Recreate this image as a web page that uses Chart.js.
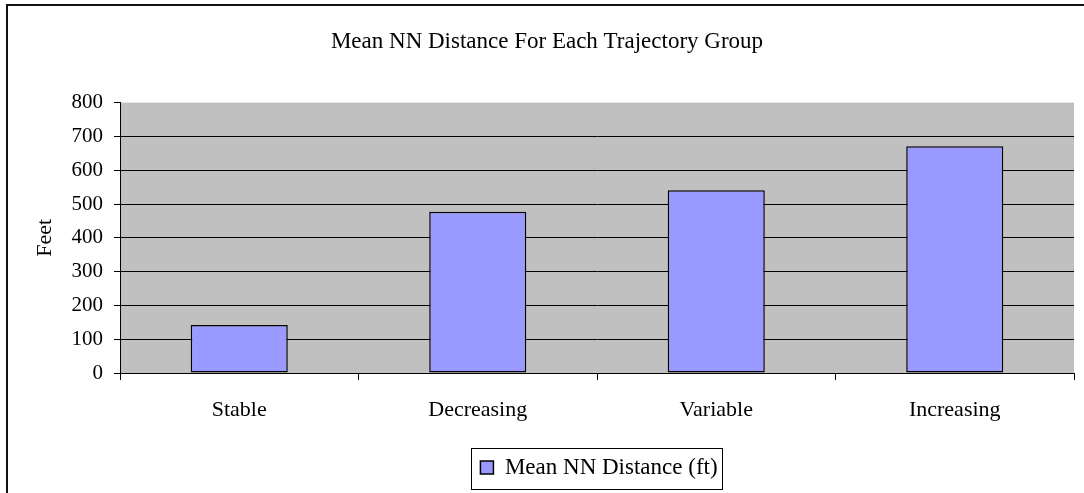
<!DOCTYPE html>
<html>
<head>
<meta charset="utf-8">
<script src="https://cdn.jsdelivr.net/npm/chart.js@4/dist/chart.umd.min.js"></script>
<style>
  body { margin: 0; background: #fff; }
  canvas { display: block; }
</style>
</head>
<body>
<canvas id="barChart" width="1084" height="493"></canvas>
<script>
// values
var categories = ['Stable', 'Decreasing', 'Variable', 'Increasing'];
var meanDistance = [142, 477, 541, 671];
var yMin = 0, yMax = 800, yStep = 100;

var serif = 'Liberation Serif, Times New Roman, serif';
var legendShift = 62; // legend sits right of centre in the original
var titleShift = 10;

// gray plot background, outer frame and legend box
var decorations = {
    id: 'decorations',
    afterLayout: function(chart) {
        chart.legend.left += legendShift;
        chart.legend.right += legendShift;
        chart.titleBlock.left += titleShift;
        chart.titleBlock.right += titleShift;
    },
    beforeDraw: function(chart) {
        var ctx = chart.ctx, a = chart.chartArea;
        ctx.save();
        ctx.fillStyle = '#C0C0C0';
        ctx.fillRect(a.left, a.top, a.right - a.left, a.bottom - a.top);
        ctx.restore();
    },
    afterDraw: function(chart) {
        var ctx = chart.ctx, lg = chart.legend;
        ctx.save();
        ctx.fillStyle = '#111';
        ctx.fillRect(6, 4, 2, chart.height);
        ctx.fillRect(6, 4, chart.width, 2);
        var hb = lg.legendHitBoxes[0];
        if (hb) {
            var cx = (lg.left + lg.right) / 2;
            var cy = hb.top + hb.height / 2;
            var w = hb.width + 14;
            ctx.strokeStyle = '#000';
            ctx.lineWidth = 1;
            ctx.strokeRect(Math.round(cx - w / 2 - 2) + 0.5, Math.round(cy - 20) + 0.5,
                           Math.round(w), 41);
        }
        ctx.restore();
    }
};

var ctx = document.getElementById('barChart');
var barChart = new Chart(ctx, {
    type: 'bar',
    data: {
        labels: categories,
        datasets: [{
            label: 'Mean NN Distance (ft)',
            data: meanDistance,
            backgroundColor: '#9999FF',
            borderColor: '#000',
            borderWidth: 1.5,
            borderSkipped: false,
            categoryPercentage: 1,
            barPercentage: 0.407
        }]
    },
    options: {
        responsive: false,
        animation: false,
        layout: { padding: { left: 0, right: 10, top: 0, bottom: 4 } },
        plugins: {
            title: {
                display: true,
                text: 'Mean NN Distance For Each Trajectory Group',
                color: '#000',
                font: { family: serif, size: 23, weight: 'normal' },
                padding: { top: 28, bottom: 47 }
            },
            legend: {
                position: 'bottom',
                labels: {
                    color: '#000',
                    font: { family: serif, size: 23 },
                    boxWidth: 13,
                    boxHeight: 13,
                    padding: 10
                }
            },
            tooltip: { enabled: false }
        },
        scales: {
            x: {
                afterFit: function(scale) { scale.height = 73; },
                grid: {
                    drawOnChartArea: false,
                    drawTicks: true,
                    tickLength: 7,
                    color: '#000'
                },
                border: { color: '#000', width: 1 },
                ticks: {
                    color: '#000',
                    padding: 17,
                    font: { family: serif, size: 22 }
                }
            },
            y: {
                min: yMin,
                max: yMax,
                afterFit: function(scale) { scale.width = 120; },
                title: {
                    display: true,
                    text: 'Feet',
                    color: '#000',
                    font: { family: serif, size: 22 },
                    padding: { top: 32, bottom: 0 }
                },
                grid: {
                    color: function(c) { return c.tick && c.tick.value === yMax ? 'rgba(0,0,0,0)' : '#000'; },
                    tickColor: '#000',
                    tickLength: 6,
                    lineWidth: 1
                },
                border: { color: '#000', width: 1 },
                ticks: {
                    stepSize: yStep,
                    color: '#000',
                    padding: 11,
                    font: { family: serif, size: 21 }
                }
            }
        }
    },
    plugins: [decorations]
});
</script>
</body>
</html>
